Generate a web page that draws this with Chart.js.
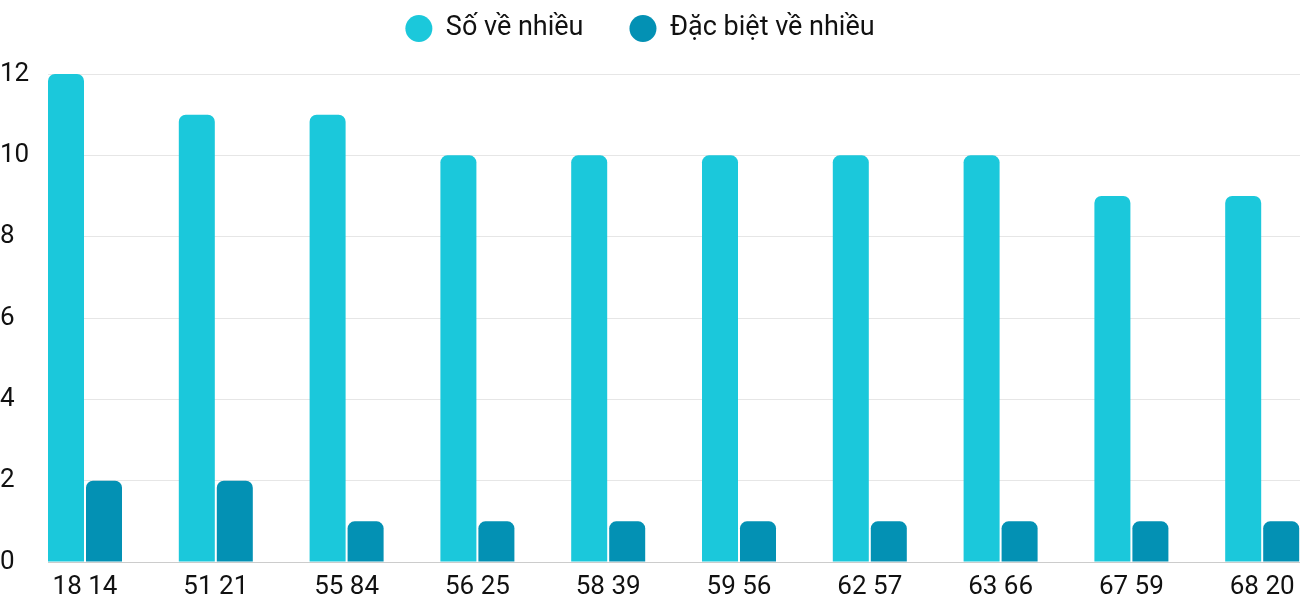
<!DOCTYPE html>
<html>
<head>
<meta charset="utf-8">
<script src="https://cdn.jsdelivr.net/npm/chart.js@4"></script>
<style>
html,body{margin:0;padding:0;background:#fff;overflow:hidden;}
#wrap{width:1300px;height:600px;position:relative;}
</style>
</head>
<body>
<div id="wrap"><canvas id="c" width="1300" height="600"></canvas></div>
<script>
const categories = ["18 14","51 21","55 84","56 25","58 39","59 56","62 57","63 66","67 59","68 20"];
const seriesNames = ["Số về nhiều","Đặc biệt về nhiều"];
const soVeNhieu = [12,11,11,10,10,10,10,10,9,9];
const dacBietVeNhieu = [2,2,1,1,1,1,1,1,1,1];
const yTicks = [0,2,4,6,8,10,12];

const toPoints = arr => arr.map((v,i)=>({x:i,y:v}));
const FONT = 'Roboto';

const legendHeightPlugin = {
  id:'legendHeight',
  beforeLayout(chart){
    const lg = chart.legend;
    if (lg && !lg._patched){
      const orig = lg.fit.bind(lg);
      lg.fit = function(){ orig(); this.height = 105; if (this.lineWidths) this.lineWidths[0] += 20; };
      lg._patched = true;
    }
  }
};

new Chart(document.getElementById('c'), {
  type: 'bar',
  data: {
    datasets: [
      {label: seriesNames[0], data: toPoints(soVeNhieu), backgroundColor:'#1bc8db',
       borderRadius:{topLeft:7,topRight:7,bottomLeft:0,bottomRight:0}, borderSkipped:'bottom'},
      {label: seriesNames[1], data: toPoints(dacBietVeNhieu), backgroundColor:'#0391b4',
       borderRadius:{topLeft:7,topRight:7,bottomLeft:0,bottomRight:0}, borderSkipped:'bottom'}
    ]
  },
  plugins:[legendHeightPlugin],
  options: {
    responsive:false,
    animation:false,
    categoryPercentage: 76/130.8,
    barPercentage: 36/38,
    layout:{padding:{top:-31,left:0,right:0,bottom:0}},
    plugins:{
      legend:{
        position:'top',
        labels:{
          usePointStyle:true, pointStyle:'circle',
          boxHeight:19, pointStyleWidth:27, boxWidth:27,
          padding:46,
          color:'#111',
          font:{family:FONT,size:27}
        }
      },
      tooltip:{enabled:false}
    },
    scales:{
      x:{
        type:'linear',
        bounds:'data',
        offset:false,
        min:-0.2829, max:9.289,
        grid:{display:false, offset:false},
        border:{display:false},
        afterBuildTicks:(s)=>{ s.ticks = categories.map((_,i)=>({value:i})); },
        ticks:{
          autoSkip:false, maxRotation:0,
          color:'#111', font:{family:FONT,size:26}, padding:2,
          callback:(v)=> categories[Math.round(v)]
        },
        afterFit:(s)=>{ s.height = 38; }
      },
      y:{
        min:0, max:12,
        afterBuildTicks:(s)=>{ s.ticks = yTicks.map(v=>({value:v})); },
        grid:{drawTicks:false, color:(ctx)=> ctx.tick && ctx.tick.value===0 ? '#cccccc' : '#e6e6e6'},
        border:{display:false},
        ticks:{color:'#111', font:{family:FONT,size:26}, crossAlign:'far', padding:8},
        afterFit:(s)=>{ s.width = 48; }
      }
    }
  }
});
</script>
</body>
</html>
